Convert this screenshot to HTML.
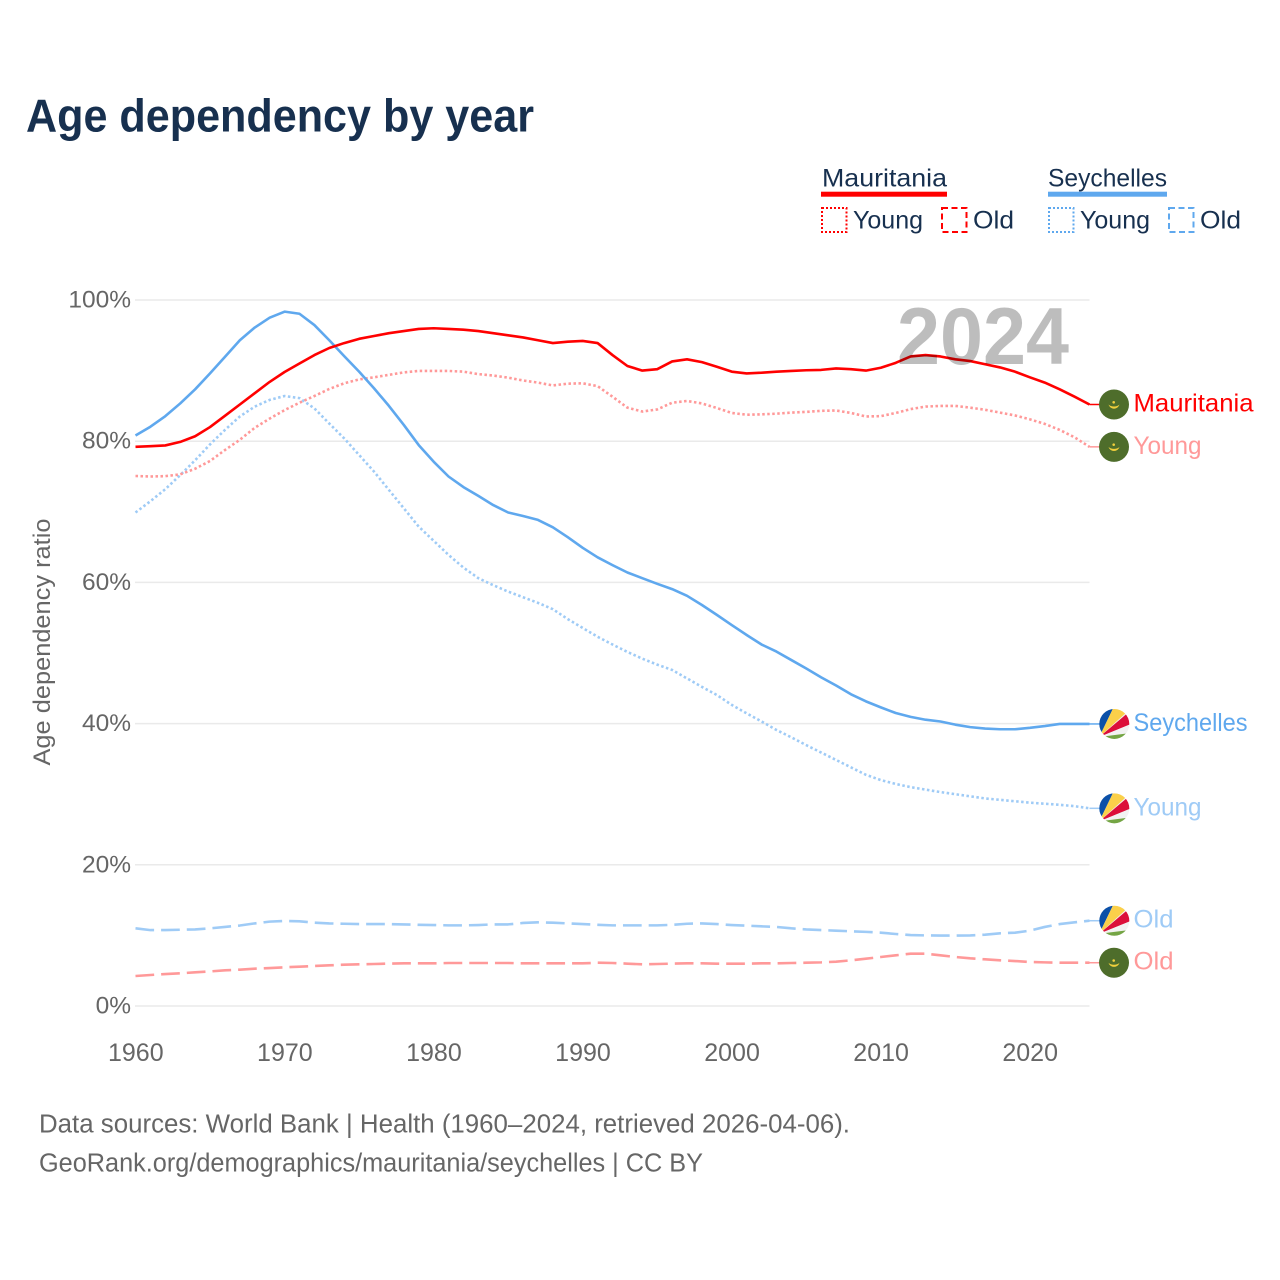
<!DOCTYPE html>
<html lang="en">
<head>
<meta charset="utf-8">
<title>Age dependency by year</title>
<style>
  html,body{margin:0;padding:0;background:#fff;}
  svg{display:block;font-family:"Liberation Sans",sans-serif;}
</style>
</head>
<body>
<svg id="chart" xmlns="http://www.w3.org/2000/svg" width="1280" height="1280" viewBox="0 0 1280 1280">
  <rect x="0" y="0" width="1280" height="1280" fill="#ffffff"/>
  <text x="26" y="131.5" font-size="46" font-weight="700" fill="#17304f" textLength="508" lengthAdjust="spacingAndGlyphs">Age dependency by year</text>

  <g>
    <text x="822" y="186.5" font-size="25" fill="#17304f" textLength="125" lengthAdjust="spacingAndGlyphs">Mauritania</text>
    <rect x="821" y="191.7" width="126" height="5" fill="#ff0000"/>
    <rect x="822" y="208" width="24.5" height="24" fill="none" stroke="#ff0000" stroke-width="2" stroke-dasharray="2 2"/>
    <text x="853" y="228.5" font-size="25" fill="#17304f" textLength="70" lengthAdjust="spacingAndGlyphs">Young</text>
    <rect x="942" y="208" width="24.5" height="24" fill="none" stroke="#ff0000" stroke-width="2" stroke-dasharray="6 3.5"/>
    <text x="973" y="228.5" font-size="25" fill="#17304f" textLength="41" lengthAdjust="spacingAndGlyphs">Old</text>
    <text x="1048" y="186.5" font-size="25" fill="#17304f" textLength="119" lengthAdjust="spacingAndGlyphs">Seychelles</text>
    <rect x="1048" y="191.7" width="119" height="5" fill="#5fa8ee"/>
    <rect x="1049" y="208" width="24.5" height="24" fill="none" stroke="#5fa8ee" stroke-width="2" stroke-dasharray="2 2"/>
    <text x="1080" y="228.5" font-size="25" fill="#17304f" textLength="70" lengthAdjust="spacingAndGlyphs">Young</text>
    <rect x="1169" y="208" width="24.5" height="24" fill="none" stroke="#5fa8ee" stroke-width="2" stroke-dasharray="6 3.5"/>
    <text x="1200" y="228.5" font-size="25" fill="#17304f" textLength="41" lengthAdjust="spacingAndGlyphs">Old</text>
  </g>

  <text transform="translate(50,642) rotate(-90)" text-anchor="middle" font-size="24" fill="#666666" textLength="247" lengthAdjust="spacingAndGlyphs">Age dependency ratio</text>

  <g id="grid"></g>
  <g id="yticks"></g>
  <g id="xticks"></g>
  <g id="series"></g>

  <text x="1069" y="364" text-anchor="end" font-size="81" font-weight="700" fill="#000000" fill-opacity="0.26" textLength="172" lengthAdjust="spacingAndGlyphs">2024</text>

  <g id="endlabels"></g>

  <text x="39" y="1132.5" font-size="25.5" fill="#666666" textLength="811" lengthAdjust="spacingAndGlyphs">Data sources: World Bank | Health (1960–2024, retrieved 2026-04-06).</text>
  <text x="39" y="1171.5" font-size="25.5" fill="#666666" textLength="664" lengthAdjust="spacingAndGlyphs">GeoRank.org/demographics/mauritania/seychelles | CC BY</text>
</svg>

<script>
const years = [
  1960,1961,1962,1963,1964,1965,1966,1967,1968,1969,
  1970,1971,1972,1973,1974,1975,1976,1977,1978,1979,
  1980,1981,1982,1983,1984,1985,1986,1987,1988,1989,
  1990,1991,1992,1993,1994,1995,1996,1997,1998,1999,
  2000,2001,2002,2003,2004,2005,2006,2007,2008,2009,
  2010,2011,2012,2013,2014,2015,2016,2017,2018,2019,
  2020,2021,2022,2023,2024
];
const mauritaniaTotal = [
  79.2,79.3,79.4,79.9,80.7,82.0,83.6,85.2,86.8,88.4,
  89.8,91.0,92.2,93.2,93.9,94.5,94.9,95.3,95.6,95.9,
  96.0,95.9,95.8,95.6,95.3,95.0,94.7,94.3,93.9,94.1,
  94.2,93.9,92.2,90.65,90.0,90.2,91.3,91.6,91.2,90.55,
  89.85,89.6,89.7,89.85,89.95,90.05,90.1,90.3,90.2,90.0,
  90.4,91.1,92.0,92.2,92.0,91.6,91.35,90.9,90.45,89.85,
  89.05,88.3,87.35,86.3,85.2
];
const mauritaniaYoung = [
  75.07,75.0,75.05,75.3,76.1,77.2,78.75,80.2,81.9,83.2,
  84.4,85.45,86.4,87.4,88.2,88.75,89.05,89.4,89.75,89.95,
  89.95,89.95,89.85,89.5,89.3,89.0,88.6,88.3,87.9,88.15,
  88.2,87.8,86.3,84.75,84.2,84.5,85.45,85.7,85.35,84.7,
  84.0,83.75,83.8,83.9,84.05,84.15,84.3,84.35,84.0,83.5,
  83.55,84.0,84.55,84.9,85.0,85.0,84.75,84.45,84.05,83.65,
  83.1,82.45,81.6,80.55,79.2
];
const mauritaniaOld = [
  4.25,4.39,4.53,4.63,4.77,4.9,5.05,5.15,5.29,5.38,
  5.48,5.57,5.67,5.76,5.85,5.9,5.95,6.0,6.04,6.04,
  6.04,6.09,6.09,6.09,6.09,6.09,6.04,6.04,6.04,6.04,
  6.04,6.13,6.09,6.0,5.9,5.95,6.0,6.04,6.04,6.0,
  6.0,6.0,6.04,6.04,6.09,6.13,6.18,6.28,6.47,6.7,
  6.94,7.18,7.41,7.41,7.18,6.94,6.75,6.61,6.47,6.37,
  6.23,6.18,6.13,6.13,6.13
];
const seychellesTotal = [
  80.8,82.05,83.55,85.35,87.35,89.6,91.95,94.3,96.1,97.5,
  98.35,98.05,96.45,94.3,92.05,89.85,87.5,85.0,82.3,79.45,
  77.1,75.0,73.5,72.25,70.95,69.9,69.4,68.85,67.8,66.4,
  64.9,63.55,62.45,61.4,60.6,59.8,59.05,58.1,56.8,55.4,
  53.95,52.55,51.2,50.2,49.0,47.8,46.55,45.4,44.15,43.15,
  42.3,41.5,40.95,40.55,40.3,39.85,39.5,39.3,39.2,39.2,
  39.4,39.65,39.95,39.95,39.95
];
const seychellesYoung = [
  69.9,71.5,73.2,75.2,77.3,79.55,81.6,83.5,84.9,85.85,
  86.4,86.1,84.65,82.5,80.4,78.05,75.7,73.1,70.5,67.9,
  65.9,63.9,62.1,60.6,59.6,58.7,57.9,57.1,56.2,54.8,
  53.55,52.3,51.2,50.15,49.2,48.35,47.6,46.4,45.2,44.05,
  42.65,41.45,40.3,39.1,38.05,36.95,35.9,34.85,33.8,32.75,
  32.0,31.45,31.0,30.65,30.3,30.0,29.7,29.4,29.2,29.0,
  28.8,28.65,28.5,28.3,28.0
];
const seychellesOld = [
  11.0,10.75,10.75,10.8,10.85,11.0,11.2,11.4,11.7,11.95,
  12.05,12.0,11.8,11.7,11.65,11.6,11.6,11.6,11.56,11.5,
  11.47,11.42,11.42,11.47,11.56,11.56,11.76,11.85,11.8,11.7,
  11.6,11.5,11.42,11.42,11.42,11.42,11.5,11.65,11.7,11.6,
  11.47,11.38,11.28,11.2,11.0,10.85,10.75,10.67,10.58,10.5,
  10.39,10.2,10.05,10.0,9.97,9.97,10.0,10.1,10.3,10.39,
  10.67,11.2,11.6,11.85,12.08
];
const yTickValues = [0,20,40,60,80,100];
const yTickLabels = ["0%","20%","40%","60%","80%","100%"];
const xTickValues = [1960,1970,1980,1990,2000,2010,2020];
const xTickLabels = ["1960","1970","1980","1990","2000","2010","2020"];

const NS = "http://www.w3.org/2000/svg";
const xScale = function (year) { return 135.5 + (year - 1960) * (954 / 64); };
const yScale = function (value) { return 1006 - value * 7.06; };

function make(tag, parent, attrs) {
  const el = document.createElementNS(NS, tag);
  for (const k in attrs) el.setAttribute(k, attrs[k]);
  parent.appendChild(el);
  return el;
}

const gridGroup = document.getElementById("grid");
const yTickGroup = document.getElementById("yticks");
yTickValues.forEach(function (v, i) {
  const line = make("line", gridGroup, {x1: 135, x2: 1089.5, y1: yScale(v), y2: yScale(v), stroke: "#eaeaea", "stroke-width": 1.5});
  
  
  const t = make("text", yTickGroup, {x: 131, y: yScale(v) + 7.5, "text-anchor": "end", "font-size": 24.5, fill: "#666666"});
  
  
  t.textContent = yTickLabels[i];
});

const xTickGroup = document.getElementById("xticks");
xTickValues.forEach(function (v, i) {
  const t = make("text", xTickGroup, {x: xScale(v) + 0.3, y: 1061, "text-anchor": "middle", "font-size": 25, fill: "#666666"});
  
  
  t.textContent = xTickLabels[i];
});

const RED = "#ff0000", RED_LIGHT = "#ff9999", BLUE = "#5fa8ee", BLUE_LIGHT = "#9fcbf6";
const DOTTED = "2.5 2.5", DASHED = "18.7 7";

const seriesGroup = document.getElementById("series");
const labelGroup = document.getElementById("endlabels");

function drawLine(values, color, dash) {
  const d = values.map(function (v, i) {
    return (i ? "L" : "M") + xScale(years[i]).toFixed(2) + " " + yScale(v).toFixed(2);
  }).join("");
  const attrs = {d: d, fill: "none", stroke: color, "stroke-width": 2.6, "stroke-linejoin": "round"};
  if (dash) attrs["stroke-dasharray"] = dash;
  return make("path", seriesGroup, attrs);
}

function drawStub(values, color) {
  const yEnd = yScale(values[values.length - 1]);
  const xEnd = xScale(years[years.length - 1]);
  const stub = make("line", labelGroup, {x1: xEnd, x2: xEnd + 11, y1: yEnd, y2: yEnd, stroke: color, "stroke-width": 1.5});
  
  
}

function mauritaniaFlag(cy, clipId) {
  const g = make("g", labelGroup, {transform: "translate(1114," + cy + ")"});
  make("circle", g, {cx: 0, cy: 0, r: 15, fill: "#4e6d2b"});
  make("path", g, {d: "M-5.5 0 A5.7 5.7 0 0 0 5.5 0 A6.5 4.4 0 0 1 -5.5 0Z", fill: "#f0cf3c"});
  make("circle", g, {cx: -0.3, cy: -2.2, r: 1.3, fill: "#f0cf3c"});
  return g;
}

function seychellesFlag(cy, clipId) {
  const g = make("g", labelGroup, {transform: "translate(1114.3," + cy + ")"});
  const clip = make("clipPath", g, {id: clipId});
  make("circle", clip, {cx: 0, cy: 0, r: 15});
  const inner = make("g", g, {"clip-path": "url(#" + clipId + ")"});
  make("circle", inner, {cx: 0, cy: 0, r: 15, fill: "#f0f0f0"});
  make("polygon", inner, {points: "-15,13 -16,-16 -1,-16", fill: "#0b50a8"});
  make("polygon", inner, {points: "-15,13 -1,-16 17,-16", fill: "#fbd04a"});
  make("polygon", inner, {points: "-15,13 17,-14 17,0", fill: "#dc0f3a"});
  make("polygon", inner, {points: "-15,13 17,0 17,9", fill: "#f2f2f2"});
  make("polygon", inner, {points: "-15,13 17,9 17,17 -15,17", fill: "#74a544"});
  return g;
}

const seriesList = [
  {values: seychellesYoung, color: BLUE_LIGHT, dash: DOTTED, label: "Young", flag: seychellesFlag, name: "seychelles-young", w: 68},
  {values: seychellesOld, color: BLUE_LIGHT, dash: DASHED, label: "Old", flag: seychellesFlag, name: "seychelles-old", w: 40},
  {values: mauritaniaYoung, color: RED_LIGHT, dash: DOTTED, label: "Young", flag: mauritaniaFlag, name: "mauritania-young", w: 68},
  {values: mauritaniaOld, color: RED_LIGHT, dash: DASHED, label: "Old", flag: mauritaniaFlag, name: "mauritania-old", w: 40},
  {values: seychellesTotal, color: BLUE, dash: null, label: "Seychelles", flag: seychellesFlag, name: "seychelles-total", w: 114},
  {values: mauritaniaTotal, color: RED, dash: null, label: "Mauritania", flag: mauritaniaFlag, name: "mauritania-total", w: 120}
];

seriesList.forEach(function (s, i) {
  const path = drawLine(s.values, s.color, s.dash);
  
  
  drawStub(s.values, s.color);
  const cy = yScale(s.values[s.values.length - 1]);
  const flag = s.flag(cy, "flag-clip-" + i);
  
  
  const label = make("text", labelGroup, {x: 1133.5, y: cy + 7, "font-size": 25, fill: s.color, textLength: s.w, lengthAdjust: "spacingAndGlyphs"});
  
  
  label.textContent = s.label;
});
</script>
</body>
</html>
